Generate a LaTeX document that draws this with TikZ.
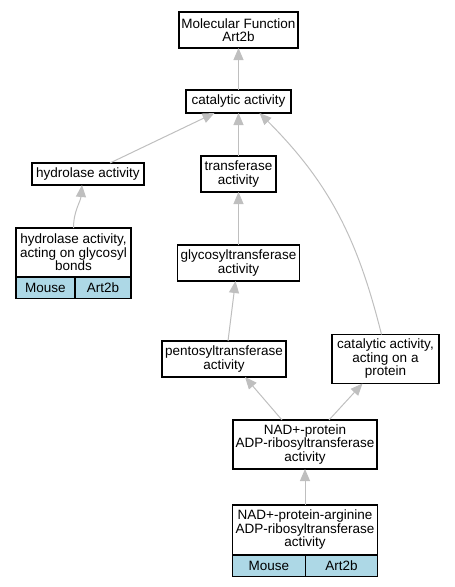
\documentclass[tikz,border=0pt]{standalone}
\usepackage{fontspec}
\setmainfont{Liberation Sans}
\usetikzlibrary{arrows.meta,positioning}
\definecolor{lightblue}{HTML}{ADD8E6}
\tikzset{
    %Define standard arrow tip
    >={Triangle[width=10pt,length=12pt]},
    %Define style for boxes
    box/.style={
           rectangle,
           draw=black, line width=1.1pt,
           fill=white,
           align=center,
           inner sep=0pt, outer sep=0pt,
           font=\fontsize{13.5}{13.5}\selectfont},
    % Define style for table cells
    cell/.style={
           box,
           fill=lightblue,
           minimum height=21.5pt},
    % Define arrow style
    isa/.style={
           ->,
           draw=gray!50,
           line width=1pt}
}

\begin{document}
\begin{tikzpicture}[x=1pt, y=-1pt]
 \useasboundingbox (0,0) rectangle (455,587);
 %nodes
    \node[box, minimum width=119pt, minimum height=36pt] (mf) at (238.5,30) {Molecular Function\\Art2b};
    \node[box, minimum width=105pt, minimum height=23pt, below=42pt of mf] (cat) {catalytic activity};
    \node[box, minimum width=75pt, minimum height=36pt, below=43pt of cat] (trans) {transferase\\activity};
    \node[box, minimum width=112pt, minimum height=22pt, left=57pt of trans] (hyd) {hydrolase activity};
    \node[box, minimum width=115pt, minimum height=49pt, below=43pt of hyd, xshift=-14.5pt] (hydgly) {hydrolase activity,\\acting on glycosyl\\bonds};
    \node[cell, minimum width=59pt, anchor=north west] (hydglyM) at (hydgly.south west) {Mouse};
    \node[cell, minimum width=56pt, right=0pt of hydglyM] (hydglyA) {Art2b};
    \node[box, minimum width=122pt, minimum height=36pt, below=53pt of trans] (glyco) {glycosyltransferase\\activity};
    \node[box, minimum width=124pt, minimum height=36pt, below=60pt of glyco, xshift=-14.5pt] (pento) {pentosyltransferase\\activity};
    \node[box, minimum width=107pt, minimum height=49pt, right=46pt of pento] (prot) {catalytic activity,\\acting on a\\protein};
    \node[box, minimum width=144pt, minimum height=49pt, below=43pt of pento, xshift=81pt] (nad) {NAD+-protein\\ADP-ribosyltransferase\\activity};
    \node[box, minimum width=145pt, minimum height=50pt, below=36pt of nad] (arg) {NAD+-protein-arginine\\ADP-ribosyltransferase\\activity};
    \node[cell, minimum width=73pt, anchor=north west] (argM) at (arg.south west) {Mouse};
    \node[cell, minimum width=72pt, right=0pt of argM] (argA) {Art2b};
 %edges
    \draw[isa] (cat) -- (mf);
    \draw[isa] ([xshift=22pt]hyd.north) -- ([xshift=-24pt]cat.south);
    \draw[isa] (trans) -- (cat);
    \draw[isa] ([xshift=-4pt]prot.north) to[out=104, in=-45] ([xshift=21pt]cat.south);
    \draw[isa] (hydgly.north) to[out=90, in=-95] ([xshift=-6pt]hyd.south);
    \draw[isa] (glyco) -- (trans);
    \draw[isa] ([xshift=4pt]pento.north) -- ([xshift=-3pt]glyco.south);
    \draw[isa] ([xshift=-23pt]nad.north) -- ([xshift=21pt]pento.south);
    \draw[isa] ([xshift=24pt]nad.north) -- ([xshift=-23pt]prot.south);
    \draw[isa] (arg) -- (nad);
  \end{tikzpicture}
\end{document}
